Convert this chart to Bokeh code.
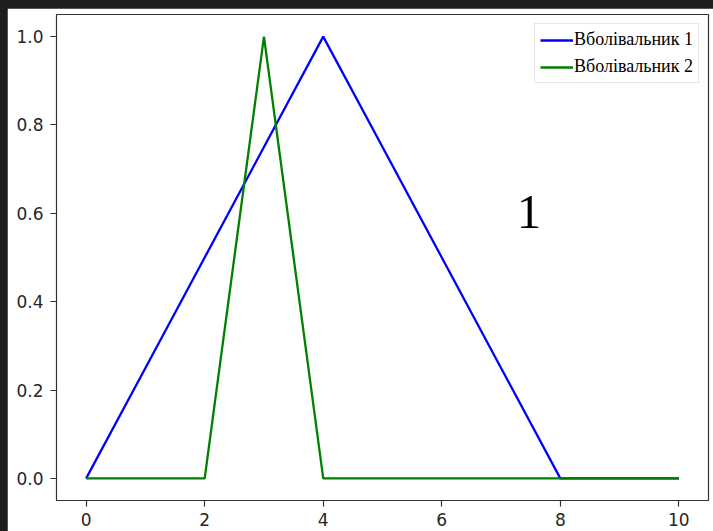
from bokeh.plotting import figure
from bokeh.layouts import column
from bokeh.models import Range1d, FixedTicker, PrintfTickFormatter, Legend, LegendItem, Label
from bokeh.embed import file_html
from bokeh.resources import INLINE

# data
x_values = [0, 1, 2, 3, 4, 5, 6, 7, 8, 9, 10]
fan1 = [0, 0.25, 0.5, 0.75, 1.0, 0.75, 0.5, 0.25, 0, 0, 0]
fan2 = [0, 0, 0, 1.0, 0, 0, 0, 0, 0, 0, 0]
series_names = ["Вболівальник 1", "Вболівальник 2"]
x_ticks = [0, 2, 4, 6, 8, 10]
y_ticks = [0.0, 0.2, 0.4, 0.6, 0.8, 1.0]
annotation_text = "1"
annotation_pos = (7.47, 0.603)

fig = figure(width=706, height=523, output_backend="svg", toolbar_location=None,
             x_range=Range1d(-0.5, 10.5), y_range=Range1d(-0.05, 1.05),
             min_border_left=49, min_border_right=5, min_border_top=6, min_border_bottom=31)
fig.background_fill_color = "white"
fig.border_fill_color = "white"
fig.outline_line_color = "#333333"
fig.outline_line_width = 1.2
fig.xgrid.visible = False
fig.ygrid.visible = False

for ax in (fig.xaxis[0], fig.yaxis[0]):
    ax.axis_line_color = None
    ax.major_tick_line_color = "#333333"
    ax.major_tick_line_width = 1.2
    ax.major_tick_out = 6
    ax.major_tick_in = 0
    ax.minor_tick_line_color = None
    ax.major_label_text_font = "DejaVu Sans"
    ax.major_label_text_font_size = "17px"
    ax.major_label_text_color = "#262626"

fig.xaxis[0].ticker = FixedTicker(ticks=x_ticks)
fig.yaxis[0].ticker = FixedTicker(ticks=y_ticks)
fig.yaxis[0].formatter = PrintfTickFormatter(format="%.1f")
fig.xaxis[0].major_label_standoff = 6
fig.yaxis[0].major_label_standoff = 7

r1 = fig.line(x_values, fan1, line_color="#0000ff", line_width=2.3)
r2 = fig.line(x_values, fan2, line_color="#008000", line_width=2.3)

legend = Legend(items=[LegendItem(label=series_names[0], renderers=[r1]),
                       LegendItem(label=series_names[1], renderers=[r2])],
                location="top_right", margin=9)
legend.label_text_font = "Liberation Serif"
legend.label_text_font_size = "18px"
legend.label_text_color = "black"
legend.glyph_width = 33
legend.glyph_height = 20
legend.label_height = 20
legend.label_standoff = 1
legend.spacing = 6
legend.padding = 5
legend.border_line_color = "#cccccc"
legend.border_line_width = 1
legend.background_fill_alpha = 0.8
fig.add_layout(legend)

fig.add_layout(Label(x=annotation_pos[0], y=annotation_pos[1], text=annotation_text,
                     text_font="Liberation Serif", text_font_size="49px",
                     text_align="center", text_baseline="alphabetic", text_color="black"))

p = column(fig, styles={"background-color": "#1e1e1e", "padding-left": "7px",
                        "padding-top": "8px"})

open("out.html", "w").write(file_html(p, INLINE))
